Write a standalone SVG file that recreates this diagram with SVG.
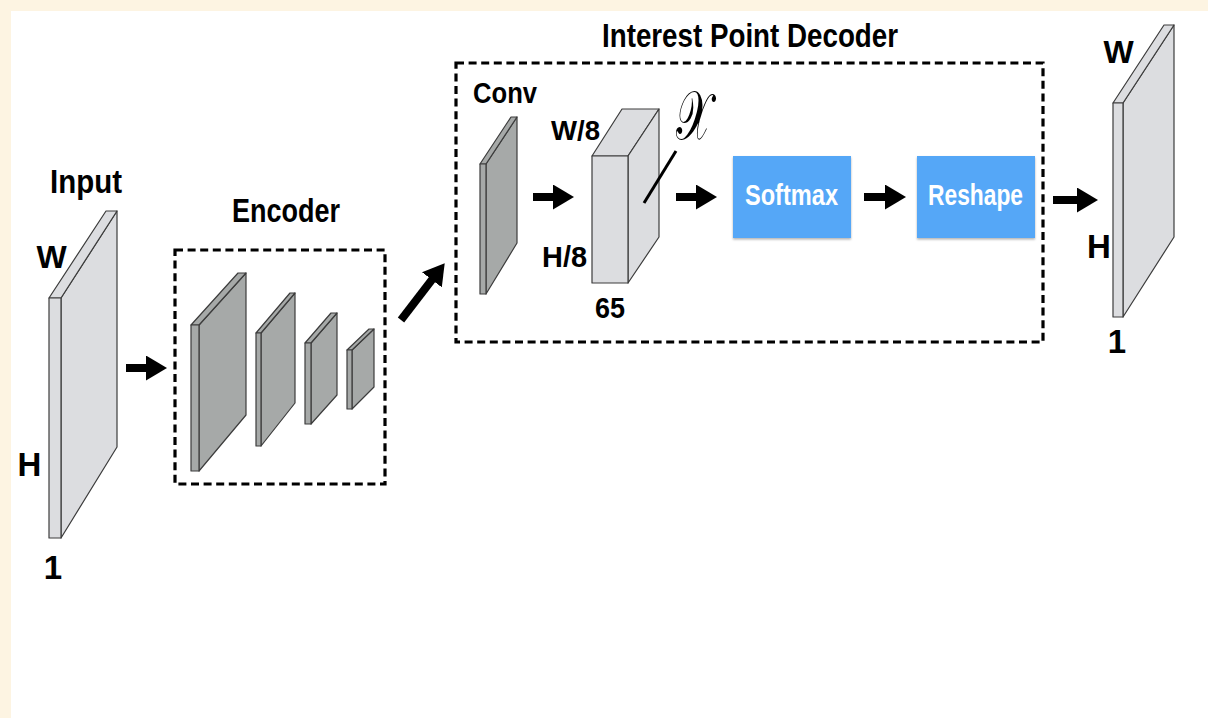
<svg xmlns="http://www.w3.org/2000/svg" width="1208" height="718" viewBox="0 0 1208 718">
  <style>
    .lbl { font-family: "Liberation Sans Narrow", "Liberation Sans", Arial, sans-serif; font-weight: bold; fill: #000; }
    .btn { font-family: "Liberation Sans Narrow", "Liberation Sans", Arial, sans-serif; font-weight: bold; fill: #fff; }
    .light { fill: #dcdde0; stroke: #3c3c3c; stroke-width: 1.2; stroke-linejoin: round; }
    .dark { fill: #a6a9a8; stroke: #3c3c3c; stroke-width: 1.2; stroke-linejoin: round; }
    .group { fill: none; stroke: #000; stroke-width: 3.2; stroke-dasharray: 8 4.6; }
    .shaft { fill: none; stroke: #000; stroke-width: 8; marker-end: url(#head); }
    .blue { fill: #54a7f7; filter: url(#soft); }
  </style>
  <defs>
    <marker id="head" markerUnits="userSpaceOnUse" markerWidth="21" markerHeight="25" viewBox="0 0 21 25" refX="1" refY="12.5" orient="auto">
      <path d="M0,0 L21,12.5 L0,25 z" fill="#000"/>
    </marker>
    <filter id="soft" x="-10%" y="-10%" width="120%" height="130%">
      <feDropShadow dx="0" dy="1.5" stdDeviation="1.2" flood-color="#000" flood-opacity="0.3"/>
    </filter>
  </defs>

  <!-- page -->
  <rect x="0" y="0" width="1208" height="718" fill="#fdf4e2"/>
  <rect x="11" y="11" width="1197" height="707" fill="#fff"/>

  <!-- input image -->
  <g id="input">
    <polygon class="light" points="61,298 117,211 117,447 61,538"/>
    <polygon class="light" points="49,298 106,211 117,211 61,298"/>
    <rect class="light" x="49" y="298" width="12" height="240"/>
    <text class="lbl" x="50" y="193" font-size="34" textLength="72" lengthAdjust="spacingAndGlyphs">Input</text>
    <text class="lbl" x="51.5" y="268" font-size="32" text-anchor="middle">W</text>
    <text class="lbl" x="29.5" y="476" font-size="33" text-anchor="middle">H</text>
    <text class="lbl" x="53" y="579" font-size="33" text-anchor="middle">1</text>
  </g>

  <!-- encoder -->
  <g id="encoder">
    <rect class="group" x="175" y="250" width="210" height="234"/>
    <text class="lbl" x="232" y="222" font-size="34" textLength="108" lengthAdjust="spacingAndGlyphs">Encoder</text>
    <polygon class="dark" points="199,325 246,273 246,415 199,471"/>
    <polygon class="dark" points="191,325 238,273 246,273 199,325"/>
    <rect class="dark" x="191" y="325" width="8" height="146"/>

    <polygon class="dark" points="261,333 295,293 295,403 261,446"/>
    <polygon class="dark" points="256,333 290,293 295,293 261,333"/>
    <rect class="dark" x="256" y="333" width="5" height="113"/>

    <polygon class="dark" points="311,343 337,313 337,395 311,424"/>
    <polygon class="dark" points="305,343 331,313 337,313 311,343"/>
    <rect class="dark" x="305" y="343" width="6" height="81"/>

    <polygon class="dark" points="352,350 374,329 374,387 352,409"/>
    <polygon class="dark" points="347,350 369,329 374,329 352,350"/>
    <rect class="dark" x="347" y="350" width="5" height="59"/>
  </g>

  <!-- interest point decoder -->
  <g id="decoder">
    <rect class="group" x="456" y="63" width="587" height="279"/>
    <text class="lbl" x="602" y="47" font-size="34" textLength="296" lengthAdjust="spacingAndGlyphs">Interest Point Decoder</text>
  </g>

  <g id="conv">
    <polygon class="dark" points="486,164 517,117 517,243 486,294"/>
    <polygon class="dark" points="480,164 511,117 517,117 486,164"/>
    <rect class="dark" x="480" y="164" width="6" height="130"/>
    <text class="lbl" x="473" y="103" font-size="29" textLength="64" lengthAdjust="spacingAndGlyphs">Conv</text>
  </g>

  <g id="tensor">
    <polygon class="light" points="592,156 622,109 659,109 628,156"/>
    <polygon class="light" points="628,156 659,109 659,237 628,283"/>
    <rect class="light" x="592" y="156" width="36" height="127"/>
    <text class="lbl" x="551" y="140" font-size="28" textLength="49" lengthAdjust="spacingAndGlyphs">W/8</text>
    <text class="lbl" x="542" y="267" font-size="30" textLength="45" lengthAdjust="spacingAndGlyphs">H/8</text>
    <text class="lbl" x="595" y="318" font-size="29" textLength="30" lengthAdjust="spacingAndGlyphs">65</text>
    <line x1="644" y1="203" x2="676" y2="151" stroke="#000" stroke-width="3"/>
    <text transform="translate(694,139) scale(0.82,1.35)" font-family="DejaVu Serif, 'Liberation Serif', serif" font-size="50" text-anchor="middle">𝒳</text>
  </g>

  <g id="softmax">
    <rect class="blue" x="733" y="156" width="118" height="82"/>
    <text class="btn" x="791.5" y="205" font-size="30" text-anchor="middle" textLength="93" lengthAdjust="spacingAndGlyphs">Softmax</text>
  </g>

  <g id="reshape">
    <rect class="blue" x="917" y="156" width="118" height="82"/>
    <text class="btn" x="975.5" y="205" font-size="30" text-anchor="middle" textLength="95" lengthAdjust="spacingAndGlyphs">Reshape</text>
  </g>

  <!-- output heatmap -->
  <g id="output">
    <polygon class="light" points="1123,103 1174,25 1174,237 1123,317"/>
    <polygon class="light" points="1113,103 1164,25 1174,25 1123,103"/>
    <rect class="light" x="1113" y="103" width="10" height="214"/>
    <text class="lbl" x="1118.5" y="63" font-size="32" text-anchor="middle">W</text>
    <text class="lbl" x="1099" y="258" font-size="33" text-anchor="middle">H</text>
    <text class="lbl" x="1117" y="353" font-size="33" text-anchor="middle">1</text>
  </g>

  <!-- connectors -->
  <g id="connectors">
    <line class="shaft" x1="126" y1="368" x2="147" y2="368"/>
    <line class="shaft" x1="401" y1="320" x2="432.5" y2="279"/>
    <line class="shaft" x1="533" y1="197" x2="554" y2="197"/>
    <line class="shaft" x1="676" y1="197" x2="697" y2="197"/>
    <line class="shaft" x1="864" y1="197" x2="886" y2="197"/>
    <line class="shaft" x1="1053" y1="200" x2="1078" y2="200"/>
  </g>
</svg>
